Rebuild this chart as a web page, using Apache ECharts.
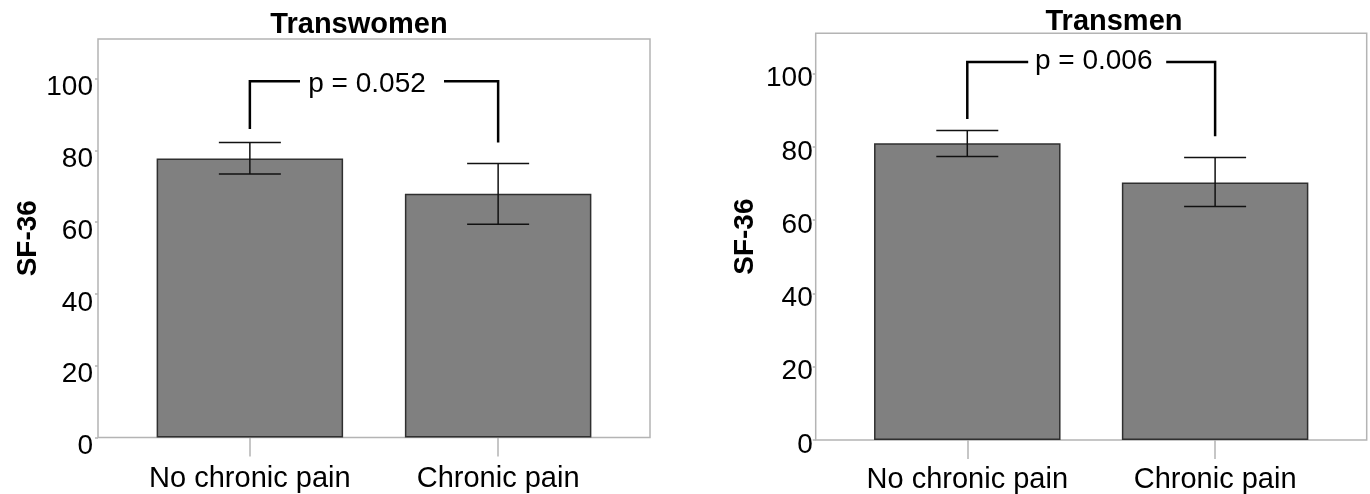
<!DOCTYPE html>
<html>
<head>
<meta charset="utf-8">
<script src="https://cdn.jsdelivr.net/npm/echarts@6/dist/echarts.min.js"></script>
<style>
  html, body { margin: 0; padding: 0; background: #fff; }
  #chart { width: 1370px; height: 494px; }
</style>
</head>
<body>
<div id="chart"></div>
<script>
// ---- data ----
const categories = ['No chronic pain', 'Chronic pain'];
const yTicks = [0, 20, 40, 60, 80, 100];

const womenTitle = 'Transwomen';
const womenMean = [77.7, 67.9];
const womenLow  = [73.4, 59.4];
const womenHigh = [82.2, 76.3];
const womenP = 'p = 0.052';
const womenBracket = [85.9, 99.2, 82.2]; // left foot, top, right foot

const menTitle = 'Transmen';
const menMean = [81.0, 70.3];
const menLow  = [77.4, 63.7];
const menHigh = [84.5, 77.1];
const menP = 'p = 0.006';
const menBracket = [87.6, 103.2, 82.9];

const yName = 'SF-36';

// ---- styling / layout ----
const FONT = '"Liberation Sans", Arial, Helvetica, sans-serif';
const panels = [
  { title: womenTitle, mean: womenMean, low: womenLow, high: womenHigh, p: womenP, br: womenBracket,
    grid: { left: 98, top: 39, width: 552, height: 398.5 }, titleX: 359, titleTop: 10,
    labelShift: 9, labelMargin: 5, xMargin: 27, textDx: -7, gap: [-74, 70], textDy: 3 },
  { title: menTitle, mean: menMean, low: menLow, high: menHigh, p: menP, br: menBracket,
    grid: { left: 815.7, top: 33.3, width: 551, height: 407.4 }, titleX: 1114, titleTop: 7,
    labelShift: 5, labelMargin: 3, xMargin: 25, textDx: 2.5, gap: [-63, 75], textDy: -1 }
];

const option = {
  animation: false,
  backgroundColor: '#fff',
  title: panels.map(p => ({
    text: p.title, left: p.titleX, top: p.titleTop, textAlign: 'center', padding: 0,
    textStyle: { fontFamily: FONT, fontSize: 29, fontWeight: 'bold', color: '#000' }
  })),
  grid: panels.map(p => Object.assign({ show: true, borderColor: '#b4b4b4', borderWidth: 1.5, backgroundColor: 'transparent' }, p.grid)),
  xAxis: panels.map((p, i) => ({
    type: 'value', gridIndex: i, min: 0.3883, max: 2.6117,
    axisLine: { show: false },
    splitLine: { show: false },
    axisTick: { show: true, customValues: [1, 2], length: 19, lineStyle: { color: '#b4b4b4', width: 1.5 } },
    axisLabel: { customValues: [1, 2], margin: p.xMargin, formatter: v => categories[Math.round(v) - 1],
      fontFamily: FONT, fontSize: 29, color: '#000' }
  })),
  yAxis: panels.map((p, i) => ({
    type: 'value', gridIndex: i, min: 0, max: 111,
    name: yName, nameLocation: 'middle', nameGap: 56,
    nameTextStyle: { fontFamily: FONT, fontSize: 28, fontWeight: 'bold', color: '#000' },
    axisLine: { show: false },
    splitLine: { show: false },
    axisTick: { show: true, customValues: yTicks, length: 3, lineStyle: { color: '#b4b4b4', width: 1.5 } },
    axisLabel: { customValues: yTicks, margin: p.labelMargin,
      formatter: v => '{t|' + v + '}',
      rich: { t: { fontFamily: FONT, fontSize: 28, color: '#000', padding: [p.labelShift * 2, 0, 0, 0] } },
      fontFamily: FONT, fontSize: 28, color: '#000' }
  })),
  series: []
};

panels.forEach((p, i) => {
  option.series.push({
    type: 'bar', xAxisIndex: i, yAxisIndex: i,
    data: categories.map((c, k) => [k + 1, p.mean[k]]),
    barWidth: 186.5,
    itemStyle: { color: '#808080', borderColor: '#2f2f2f', borderWidth: 1.5 },
    z: 2
  });
  option.series.push({
    type: 'custom', xAxisIndex: i, yAxisIndex: i, z: 5,
    data: categories.map((c, k) => [k + 1, p.low[k], p.high[k]]),
    encode: { x: 0, y: [1, 2] },
    renderItem: function (params, api) {
      const lo = api.coord([api.value(0), api.value(1)]);
      const hi = api.coord([api.value(0), api.value(2)]);
      const hw = 31;
      const st = { stroke: '#111', lineWidth: 1.5 };
      return { type: 'group', children: [
        { type: 'line', shape: { x1: lo[0], y1: lo[1], x2: hi[0], y2: hi[1] }, style: st },
        { type: 'line', shape: { x1: lo[0] - hw, y1: lo[1], x2: lo[0] + hw, y2: lo[1] }, style: st },
        { type: 'line', shape: { x1: hi[0] - hw, y1: hi[1], x2: hi[0] + hw, y2: hi[1] }, style: st }
      ]};
    }
  });
  option.series.push({
    type: 'custom', xAxisIndex: i, yAxisIndex: i, z: 6,
    data: [[1, 2, p.br[0], p.br[1], p.br[2]]],
    encode: { x: [0, 1], y: [2, 3, 4] },
    renderItem: function (params, api) {
      const a = api.coord([api.value(0), api.value(2)]);
      const top = api.coord([api.value(0), api.value(3)]);
      const b = api.coord([api.value(1), api.value(4)]);
      const yT = top[1];
      const mid = (a[0] + b[0]) / 2;
      const st = { stroke: '#000', lineWidth: 2.5, fill: null, lineJoin: 'miter' };
      return { type: 'group', children: [
        { type: 'polyline', shape: { points: [[a[0], a[1]], [a[0], yT], [mid + p.gap[0], yT]] }, style: st },
        { type: 'polyline', shape: { points: [[mid + p.gap[1], yT], [b[0], yT], [b[0], b[1]]] }, style: st },
        { type: 'text', x: mid + p.textDx, y: yT + p.textDy,
          style: { text: p.p, fill: '#000', font: '28px ' + FONT, textAlign: 'center', textVerticalAlign: 'middle' } }
      ]};
    }
  });
});

const chart = echarts.init(document.getElementById('chart'), null, { renderer: 'canvas' });
chart.setOption(option);
</script>
</body>
</html>
